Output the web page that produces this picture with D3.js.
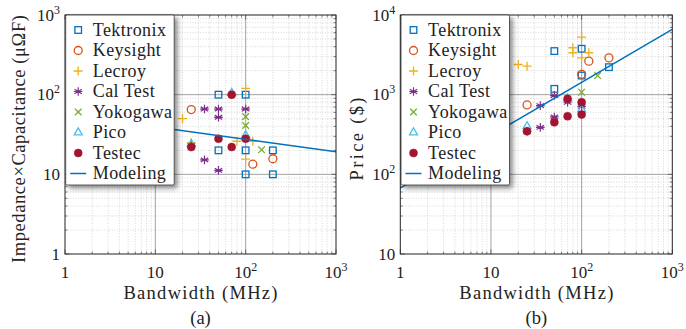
<!DOCTYPE html>
<html><head><meta charset="utf-8">
<script src="https://cdn.jsdelivr.net/npm/d3@7"></script>
</head>
<body style="margin:0">
<svg id="chart" width="686" height="329"></svg>
<script>
// ---------- data ----------
const categories = ["Tektronix","Keysight","Lecroy","Cal Test","Yokogawa","Pico","Testec","Modeling"];
const colors = ["#0072BD","#D95319","#EDB120","#7E2F8E","#77AC30","#4DBEEE","#A2142F","#0072BD"];
const xTicks = [1,10,100,1000];
const yTicksA = [1,10,100,1000];
const yTicksB = [10,100,1000,10000];
const subLabels = ["(a)","(b)"];
const xTitle = "Bandwidth (MHz)";
const yTitles = ["Impedance×Capacitance (μΩF)","Price ($)"];

// (a) impedance x capacitance vs bandwidth  [MHz, value]
const tekA = [[50,100],[100,100],[50,20],[100,20],[100,10],[200,20],[200,10]];
const keyA = [[25,65],[120,13.4],[200,15.7]];
const lecA = [[20,50],[25,25],[80,26],[100,120],[100,15.5],[120,26]];
const calA = [[25,23],[35,66],[35,15.2],[50,66],[50,52],[50,11.2],[100,66]];
const yokA = [[100,53],[100,41],[150,20.3]];
const picA = [[25,24],[70,105],[100,31]];
const tesA = [[25,22],[50,28],[70,22],[70,100],[100,28]];
const modA = [[1,56.5],[1000,19.2]];

// (b) price vs bandwidth  [MHz, $]
const tekB = [[50,3525],[100,3770],[50,1183],[100,1738],[200,2213]];
const keyB = [[25,743],[100,1800],[120,2636],[200,2904]];
const lecB = [[20,2393],[25,2281],[80,3880],[80,3357],[100,5285],[100,2904],[120,3357]];
const calB = [[25,347],[35,389],[35,729],[50,975],[50,525],[70,803],[100,714]];
const yokB = [[100,1074],[150,1738]];
const picB = [[25,401],[70,900],[100,649]];
const tesB = [[25,347],[50,450],[70,535],[70,886],[100,803],[100,563]];
const modB = [[1,67],[1000,6600]];

const seriesA = [tekA,keyA,lecA,calA,yokA,picA,tesA];
const seriesB = [tekB,keyB,lecB,calB,yokB,picB,tesB];
const symbols = ["square","circle","plus","asterisk","cross","triangle","dot"];

// ---------- layout ----------
const FONT = "Liberation Serif";
const svg = d3.select("#chart");
const defs = svg.append("defs");
const f = defs.append("filter").attr("id","shadow").attr("x","-20%").attr("y","-20%").attr("width","150%").attr("height","150%");
f.append("feDropShadow").attr("dx",3).attr("dy",3).attr("stdDeviation",2.8).attr("flood-color","#000").attr("flood-opacity",0.45);

function txt(g){ return g.append("text").attr("font-family",FONT).attr("fill","#222"); }

const panels = [
  {x0:65, x1:336, y0:15, y1:254, ydom:[1,1000], yt:yTicksA, series:seriesA, model:modA, ylab:yTitles[0], ylx:25, sub:subLabels[0], ylen:248},
  {x0:400.3, x1:672.3, y0:15, y1:254, ydom:[10,10000], yt:yTicksB, series:seriesB, model:modB, ylab:yTitles[1], ylx:363, sub:subLabels[1], ylen:83}
];

function minorVals(dom){
  const out=[];
  for(let d=dom[0]; d<dom[1]; d*=10){ for(let k=2;k<=9;k++) out.push(d*k); }
  return out;
}

function drawMarker(g, type, x, y, color){
  const sw=1.3;
  if(type==="square"){
    g.append("rect").attr("x",x-3.3).attr("y",y-3.3).attr("width",6.6).attr("height",6.6)
      .attr("fill","none").attr("stroke",color).attr("stroke-width",sw);
  } else if(type==="circle"){
    g.append("circle").attr("cx",x).attr("cy",y).attr("r",4).attr("fill","none").attr("stroke",color).attr("stroke-width",sw);
  } else if(type==="plus"){
    g.append("path").attr("d",`M${x-4.5},${y}H${x+4.5}M${x},${y-4.5}V${y+4.5}`).attr("stroke",color).attr("stroke-width",sw).attr("fill","none");
  } else if(type==="asterisk"){
    const r=4.3, a=r*Math.cos(Math.PI/6), b=r*0.5;
    g.append("path").attr("d",`M${x},${y-r}V${y+r}M${x-a},${y-b}L${x+a},${y+b}M${x-a},${y+b}L${x+a},${y-b}M${x-r},${y}H${x+r}`)
      .attr("stroke",color).attr("stroke-width",1.2).attr("fill","none");
  } else if(type==="cross"){
    const r=3.3;
    g.append("path").attr("d",`M${x-r},${y-r}L${x+r},${y+r}M${x-r},${y+r}L${x+r},${y-r}`).attr("stroke",color).attr("stroke-width",sw).attr("fill","none");
  } else if(type==="triangle"){
    const r=4.6;
    g.append("path").attr("d",`M${x},${y-r}L${x+r*0.87},${y+r*0.5}L${x-r*0.87},${y+r*0.5}Z`).attr("stroke",color).attr("stroke-width",sw).attr("fill","none");
  } else if(type==="dot"){
    g.append("circle").attr("cx",x).attr("cy",y).attr("r",4).attr("fill",color).attr("stroke",color).attr("stroke-width",0.5);
  }
}

function tickLabel(sel, v){
  const e = Math.round(Math.log10(v));
  if(e<=1){ sel.text(String(v)); }
  else { sel.append("tspan").attr("font-family",FONT).text("10"); sel.append("tspan").attr("font-family",FONT).attr("font-size",12).attr("dy",-7).text(String(e)); }
}

panels.forEach((p)=>{
  const x = d3.scaleLog().domain([1,1000]).range([p.x0,p.x1]);
  const y = d3.scaleLog().domain(p.ydom).range([p.y1,p.y0]);
  const g = svg.append("g");

  g.append("rect").attr("x",p.x0).attr("y",p.y0).attr("width",p.x1-p.x0).attr("height",p.y1-p.y0).attr("fill","#fff");

  // minor grid
  const xm = minorVals([1,1000]), ym = minorVals(p.ydom);
  g.selectAll(null).data(xm).join("line").attr("x1",d=>x(d)).attr("x2",d=>x(d)).attr("y1",p.y0).attr("y2",p.y1)
    .attr("stroke","#bdbdbd").attr("stroke-width",0.6).attr("stroke-dasharray","1,1.6");
  g.selectAll(null).data(ym).join("line").attr("y1",d=>y(d)).attr("y2",d=>y(d)).attr("x1",p.x0).attr("x2",p.x1)
    .attr("stroke","#bdbdbd").attr("stroke-width",0.6).attr("stroke-dasharray","1,1.6");
  // major grid
  g.selectAll(null).data(xTicks.slice(1,-1)).join("line").attr("x1",d=>x(d)).attr("x2",d=>x(d)).attr("y1",p.y0).attr("y2",p.y1)
    .attr("stroke","#8a8a8a").attr("stroke-width",0.8);
  g.selectAll(null).data(p.yt.slice(1,-1)).join("line").attr("y1",d=>y(d)).attr("y2",d=>y(d)).attr("x1",p.x0).attr("x2",p.x1)
    .attr("stroke","#8a8a8a").attr("stroke-width",0.8);

  // inward ticks
  const tk = g.append("g").attr("stroke","#333").attr("stroke-width",0.6);
  xm.forEach(v=>{ tk.append("line").attr("x1",x(v)).attr("x2",x(v)).attr("y1",p.y1).attr("y2",p.y1-2.5);
                  tk.append("line").attr("x1",x(v)).attr("x2",x(v)).attr("y1",p.y0).attr("y2",p.y0+2.5); });
  ym.forEach(v=>{ tk.append("line").attr("y1",y(v)).attr("y2",y(v)).attr("x1",p.x0).attr("x2",p.x0+2.5);
                  tk.append("line").attr("y1",y(v)).attr("y2",y(v)).attr("x1",p.x1).attr("x2",p.x1-2.5); });
  xTicks.forEach(v=>{ tk.append("line").attr("x1",x(v)).attr("x2",x(v)).attr("y1",p.y1).attr("y2",p.y1-4.5);
                  tk.append("line").attr("x1",x(v)).attr("x2",x(v)).attr("y1",p.y0).attr("y2",p.y0+4.5); });
  p.yt.forEach(v=>{ tk.append("line").attr("y1",y(v)).attr("y2",y(v)).attr("x1",p.x0).attr("x2",p.x0+4.5);
                  tk.append("line").attr("y1",y(v)).attr("y2",y(v)).attr("x1",p.x1).attr("x2",p.x1-4.5); });

  // data
  const cg = g.append("g");
  p.series.forEach((s,i)=>{ s.forEach(d=> drawMarker(cg, symbols[i], x(d[0]), y(d[1]), colors[i])); });
  const line = d3.line().x(d=>x(d[0])).y(d=>y(d[1]));
  g.append("path").attr("d",line(p.model)).attr("fill","none").attr("stroke",colors[7]).attr("stroke-width",1.5);

  // frame
  g.append("rect").attr("x",p.x0).attr("y",p.y0).attr("width",p.x1-p.x0).attr("height",p.y1-p.y0)
    .attr("fill","none").attr("stroke","#222").attr("stroke-width",1);

  // tick labels
  xTicks.forEach(v=>{ const t=txt(g).attr("x",x(v)).attr("y",278).attr("text-anchor","middle").attr("font-size",17); tickLabel(t,v); });
  p.yt.forEach(v=>{ const t=txt(g).attr("x",p.x0-5).attr("y",y(v)+5.8).attr("text-anchor","end").attr("font-size",17); tickLabel(t,v); });

  // titles
  txt(g).attr("x",(p.x0+p.x1)/2).attr("y",299).attr("text-anchor","middle").attr("font-size",18.5)
    .attr("textLength",154).attr("lengthAdjust","spacing").text(xTitle);
  txt(g).attr("x",(p.x0+p.x1)/2).attr("y",324).attr("text-anchor","middle").attr("font-size",18.5).text(p.sub);
  txt(g).attr("transform",`translate(${p.ylx},139) rotate(-90)`).attr("text-anchor","middle").attr("font-size",18.5)
    .attr("textLength",p.ylen).attr("lengthAdjust","spacing").text(p.ylab);

  // legend
  const lx = p.x0+0.7, ly = p.y0, lw=108.5, lh=170;
  const lg = g.append("g");
  lg.append("rect").attr("x",lx).attr("y",ly).attr("width",lw).attr("height",lh).attr("rx",1.5)
    .attr("fill","#fff").attr("stroke","#333").attr("stroke-width",0.8).attr("filter","url(#shadow)");
  categories.forEach((c,i)=>{
    const cy = ly + 15 + i*20.5;
    if(i<7) drawMarker(lg, symbols[i], lx+12.5, cy, colors[i]);
    else lg.append("line").attr("x1",lx+4.5).attr("x2",lx+20.5).attr("y1",cy).attr("y2",cy).attr("stroke",colors[7]).attr("stroke-width",1.5);
    txt(lg).attr("x",lx+27).attr("y",cy+5.8).attr("font-size",18).attr("letter-spacing",0.45).text(c);
  });
});
</script>
</body></html>
